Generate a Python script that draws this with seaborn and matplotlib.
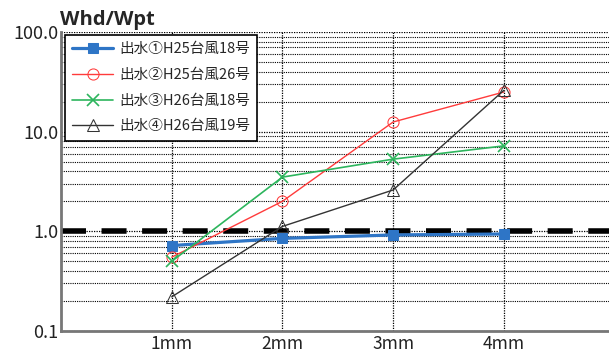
import matplotlib
matplotlib.use("Agg")
import matplotlib.pyplot as plt
import seaborn as sns
import pandas as pd
import numpy as np
from matplotlib.ticker import LogLocator, FixedLocator, FixedFormatter, NullFormatter

sns.set_theme(style="white")
plt.rcParams['font.family'] = ['Noto Sans CJK JP', 'DejaVu Sans']

categories = ["1mm", "2mm", "3mm", "4mm"]
series_names = ["出水①H25台風18号", "出水②H25台風26号", "出水③H26台風18号", "出水④H26台風19号"]
s1 = [0.72, 0.85, 0.92, 0.94]
s2 = [0.55, 2.0, 12.5, 25.0]
s3 = [0.50, 3.5, 5.3, 7.2]
s4 = [0.22, 1.12, 2.6, 26.0]
y_ticks = [0.1, 1.0, 10.0, 100.0]
y_tick_labels = ["0.1", "1.0", "10.0", "100.0"]
ref_value = 1.0

fig = plt.figure(figsize=(6.09, 3.53), dpi=100)
ax = fig.add_axes([61/609, 1-331/353, 1-61/609, (331-32)/353])

styles = [
    dict(color="#2E75C6", marker="s", markersize=7, linewidth=2.3, markerfacecolor="#2E75C6", markeredgecolor="#2E75C6"),
    dict(color="#FF3B3B", marker="o", markersize=8, linewidth=1.0, markerfacecolor="none", markeredgecolor="#FF3B3B"),
    dict(color="#2DB55D", marker="x", markersize=8, linewidth=1.2, markeredgecolor="#2DB55D", markeredgewidth=1.2),
    dict(color="#333333", marker="^", markersize=8, linewidth=1.0, markerfacecolor="none", markeredgecolor="#333333"),
]
xs = np.arange(1, len(categories) + 1)
for name, vals, st in zip(series_names, [s1, s2, s3, s4], styles):
    df = pd.DataFrame({"x": xs, "y": vals})
    sns.lineplot(data=df, x="x", y="y", ax=ax, label=name, **st)

ax.set_yscale("log")
ax.set_ylim(0.1, 100)
ax.set_xlim(0, 4.95)
ax.axhline(ref_value, color="black", linewidth=4, linestyle=(0, (4.5, 2.8)), zorder=1)

ax.xaxis.set_major_locator(FixedLocator(xs))
ax.xaxis.set_major_formatter(FixedFormatter(categories))
ax.yaxis.set_major_locator(FixedLocator(y_ticks))
ax.yaxis.set_major_formatter(FixedFormatter(y_tick_labels))
ax.yaxis.set_minor_locator(LogLocator(base=10, subs=np.arange(2, 10), numticks=20))
ax.yaxis.set_minor_formatter(NullFormatter())

ax.grid(True, which="major", axis="both", color="black", linestyle=(0, (1, 1)), linewidth=0.9)
ax.grid(True, which="minor", axis="y", color="black", linestyle=(0, (1, 1)), linewidth=0.8)
ax.set_axisbelow(True)

ax.tick_params(axis="both", which="both", length=0, colors="#222222")
ax.tick_params(axis="x", pad=3, labelsize=12.5)
ax.tick_params(axis="y", pad=2, labelsize=13)
ax.set_xlabel("")
ax.set_ylabel("")

for side in ["top", "right"]:
    ax.spines[side].set_visible(False)
for side in ["left", "bottom"]:
    ax.spines[side].set_color("#777777")
    ax.spines[side].set_linewidth(2.0)

leg = ax.legend(loc="upper left", bbox_to_anchor=(4/548, 0.99), fontsize=10.5, frameon=True,
                fancybox=False, edgecolor="black", framealpha=1, handlelength=2.8,
                labelspacing=0.8, borderpad=0.5, handletextpad=0.4, borderaxespad=0)
leg.get_frame().set_linewidth(1.2)

fig.text(60/609, 1-20/353, "Whd/Wpt", fontsize=14.5, fontweight="bold", va="center", ha="left",
         family=['Open Sans', 'DejaVu Sans'])

fig.savefig("out.png", dpi=100)
